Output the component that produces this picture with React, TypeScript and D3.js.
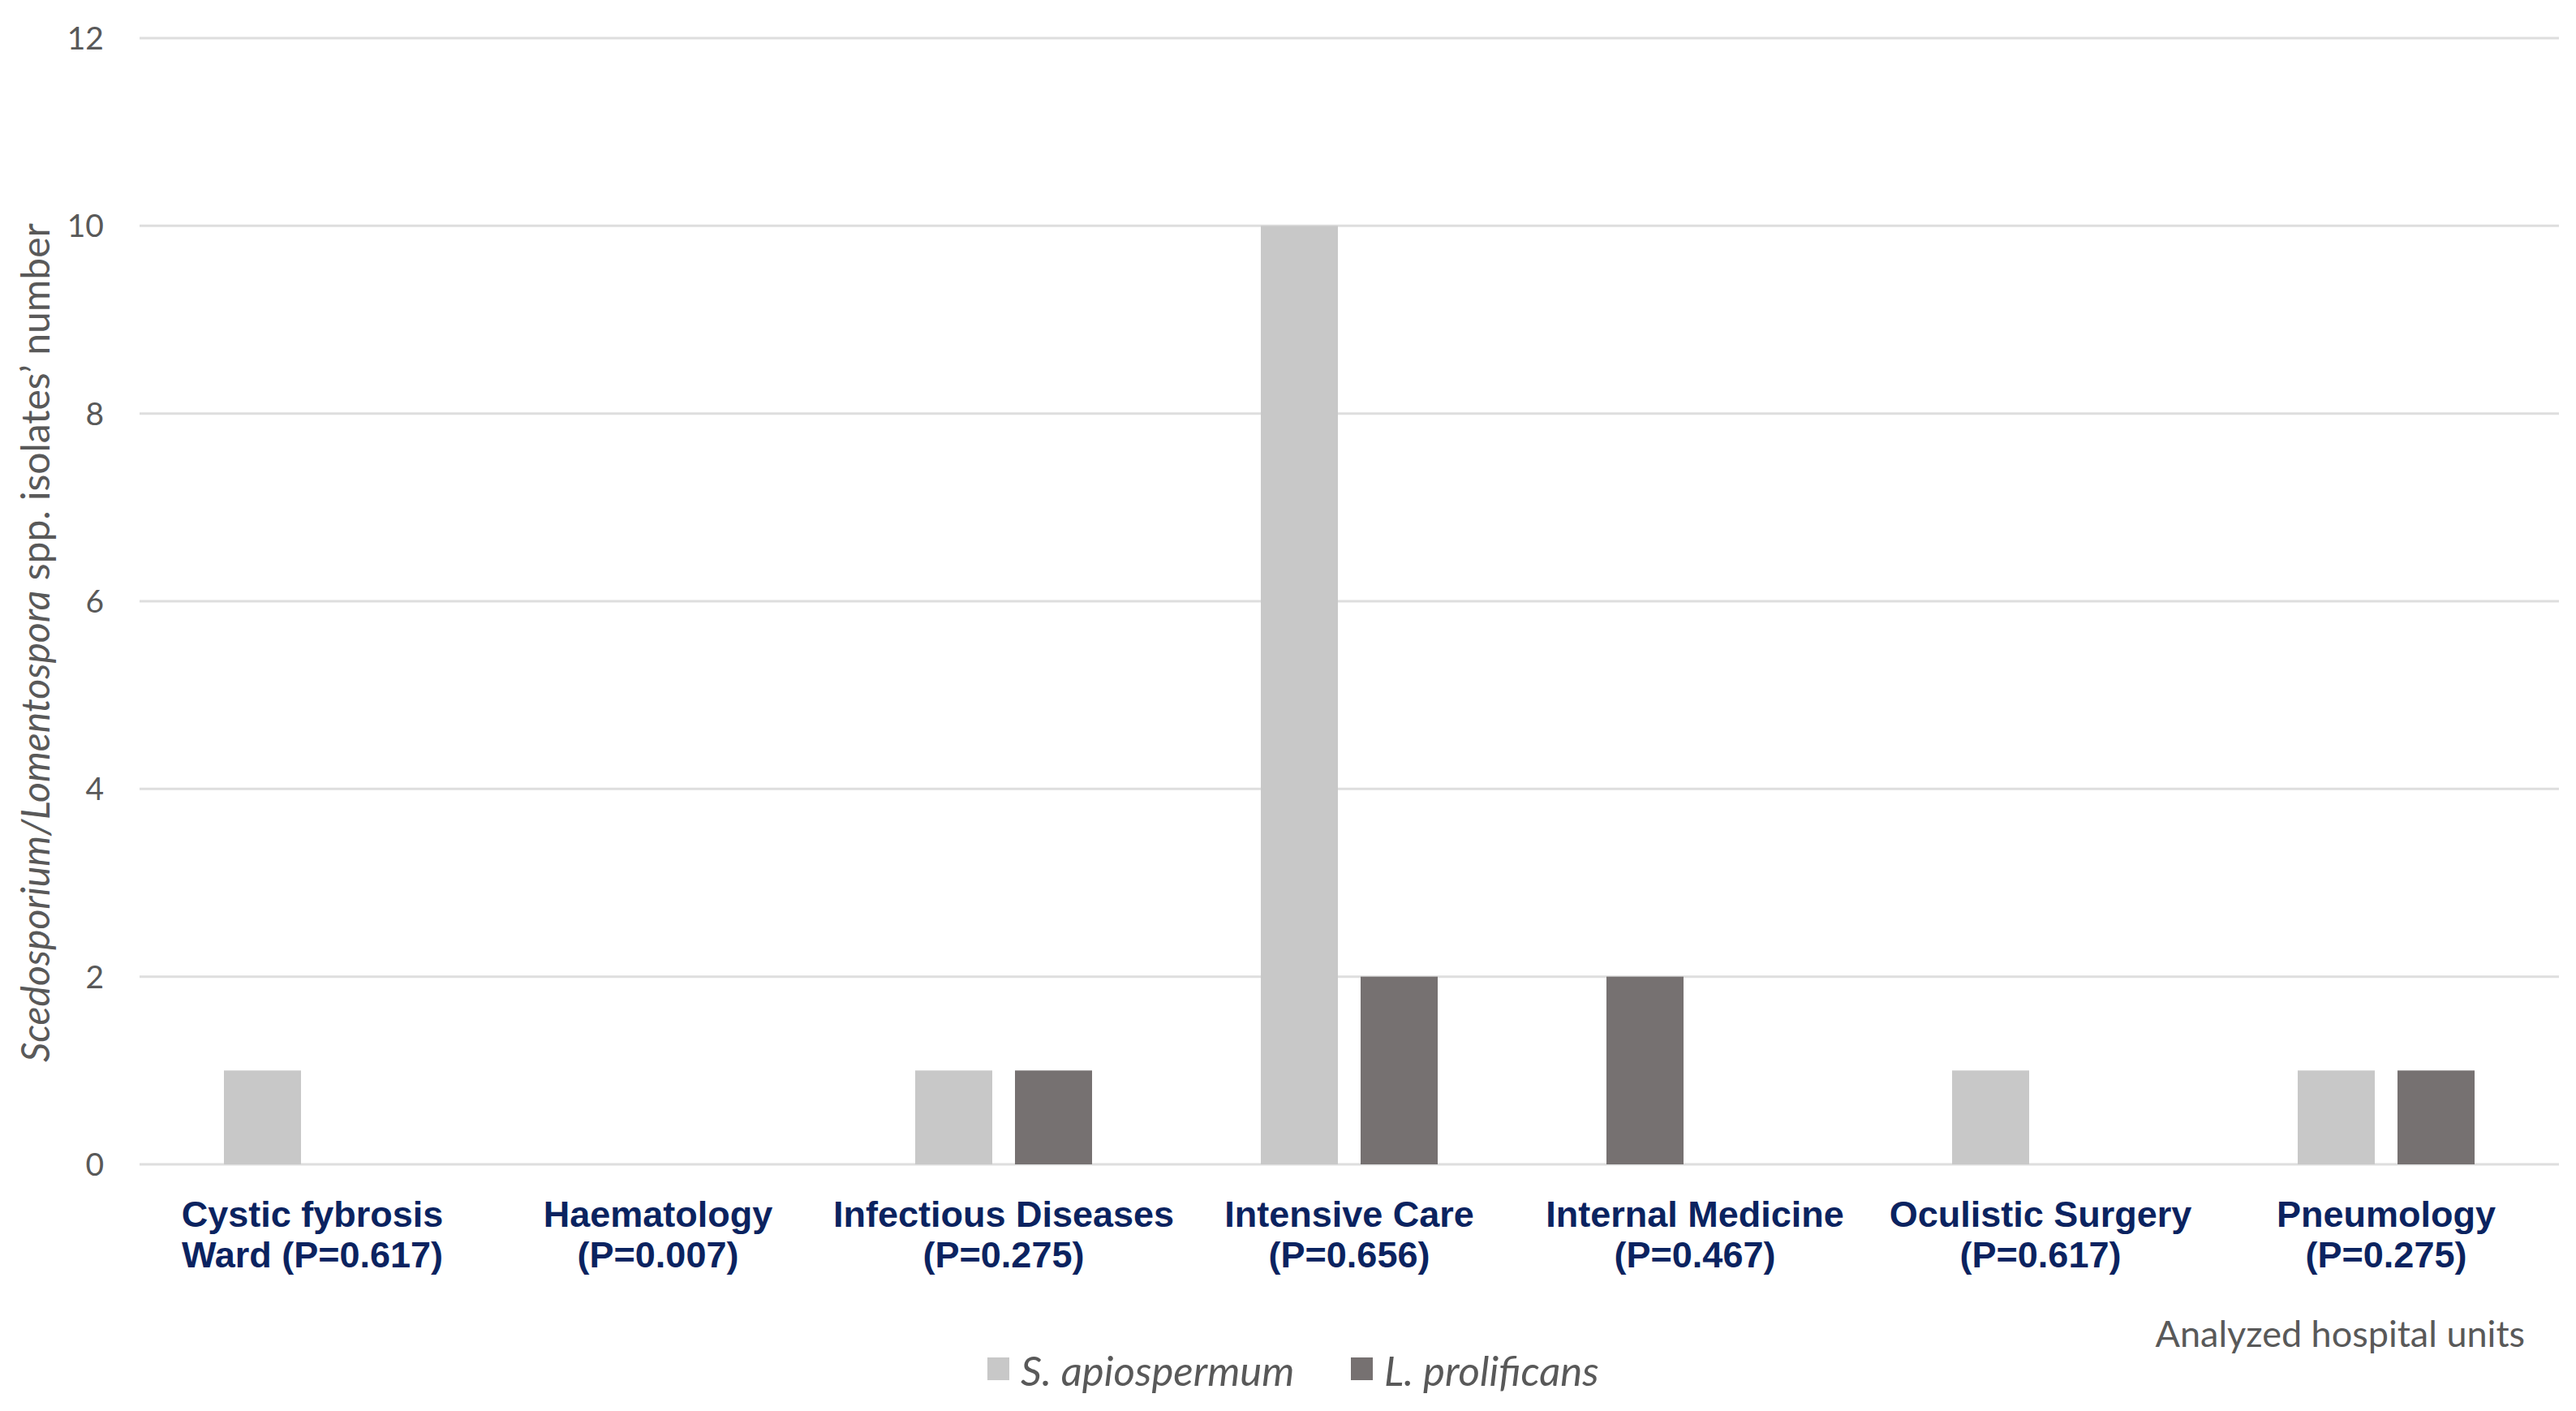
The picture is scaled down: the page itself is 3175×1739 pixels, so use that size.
import React from "react";
import * as d3 from "d3";

const categoryLine1 = ["Cystic fybrosis", "Haematology", "Infectious Diseases", "Intensive Care", "Internal Medicine", "Oculistic Surgery", "Pneumology"];
const categoryLine2 = ["Ward (P=0.617)", "(P=0.007)", "(P=0.275)", "(P=0.656)", "(P=0.467)", "(P=0.617)", "(P=0.275)"];
const seriesNames = ["S. apiospermum", "L. prolificans"];
const apiospermum = [1, 0, 1, 10, 0, 1, 1];
const prolificans = [0, 0, 1, 2, 2, 0, 1];
const seriesColors = ["#c8c8c8", "#767171"];
const yTicks = [0, 2, 4, 6, 8, 10, 12];

const W = 3175;
const H = 1739;
const plotLeft = 172;
const plotRight = 3154;
const plotTop = 47;
const plotBottom = 1435;

export default function App() {
  const x0 = d3.scaleBand<number>().domain(d3.range(categoryLine1.length)).range([plotLeft, plotRight]).padding(0);
  const x1 = d3.scaleBand<number>().domain([0, 1]).range([0, x0.bandwidth()]).paddingInner(0.2276).paddingOuter(0.8455);
  const y = d3.scaleLinear().domain([0, 12]).range([plotBottom, plotTop]);
  const seriesValues = [apiospermum, prolificans];

  const bars: { key: string; x: number; y: number; w: number; h: number; fill: string }[] = [];
  categoryLine1.forEach((_, i) => {
    let slot = 0;
    seriesValues.forEach((vals, s) => {
      const v = vals[i];
      if (v > 0) {
        bars.push({
          key: `${i}-${s}`,
          x: (x0(i) as number) + (x1(slot) as number),
          y: y(v),
          w: x1.bandwidth(),
          h: y(0) - y(v),
          fill: seriesColors[s],
        });
        slot++;
      }
    });
  });

  const labelFont = "'Liberation Sans', Arial, sans-serif";
  const textFont = "Lato, 'Open Sans', sans-serif";

  return (
    <svg width={W} height={H} style={{ position: "absolute", left: 0, top: 0, background: "#fff" }}>
      <rect x={0} y={0} width={W} height={H} fill="#fff" />
      {yTicks.map((t) => (
        <g key={t}>
          <line x1={plotLeft} x2={plotRight} y1={y(t)} y2={y(t)} stroke="#dedede" strokeWidth={3} />
          <text x={128} y={y(t)} dy="0.36em" textAnchor="end" fontFamily={textFont} fontSize={39} fill="#595959">
            {t}
          </text>
        </g>
      ))}
      {bars.map((b) => (
        <rect key={b.key} x={b.x} y={b.y} width={b.w} height={b.h} fill={b.fill} />
      ))}
      {categoryLine1.map((c, i) => {
        const cx = (x0(i) as number) + x0.bandwidth() / 2;
        return (
          <text key={c} x={cx} textAnchor="middle" fontFamily={labelFont} fontWeight="bold" fontSize={45} fill="#0b2360">
            <tspan x={cx} y={1512}>{c}</tspan>
            <tspan x={cx} y={1562}>{categoryLine2[i]}</tspan>
          </text>
        );
      })}
      <text
        transform={`translate(61, 792) rotate(-90)`}
        textAnchor="middle"
        fontFamily={textFont}
        fontSize={48}
        fill="#595959"
      >
        <tspan fontStyle="italic">Scedosporium/Lomentospora</tspan>
        <tspan> spp. isolates’ number</tspan>
      </text>
      <text x={3112} y={1660} textAnchor="end" fontFamily={textFont} fontSize={45} fill="#595959">
        Analyzed hospital units
      </text>
      {seriesNames.map((s, i) => {
        const lx = [1217, 1665][i];
        return (
          <g key={s}>
            <rect x={lx} y={1673} width={27} height={28} fill={seriesColors[i]} />
            <text x={lx + 41} y={1708} fontFamily={textFont} fontStyle="italic" fontSize={51} fill="#595959">
              {s}
            </text>
          </g>
        );
      })}
    </svg>
  );
}
